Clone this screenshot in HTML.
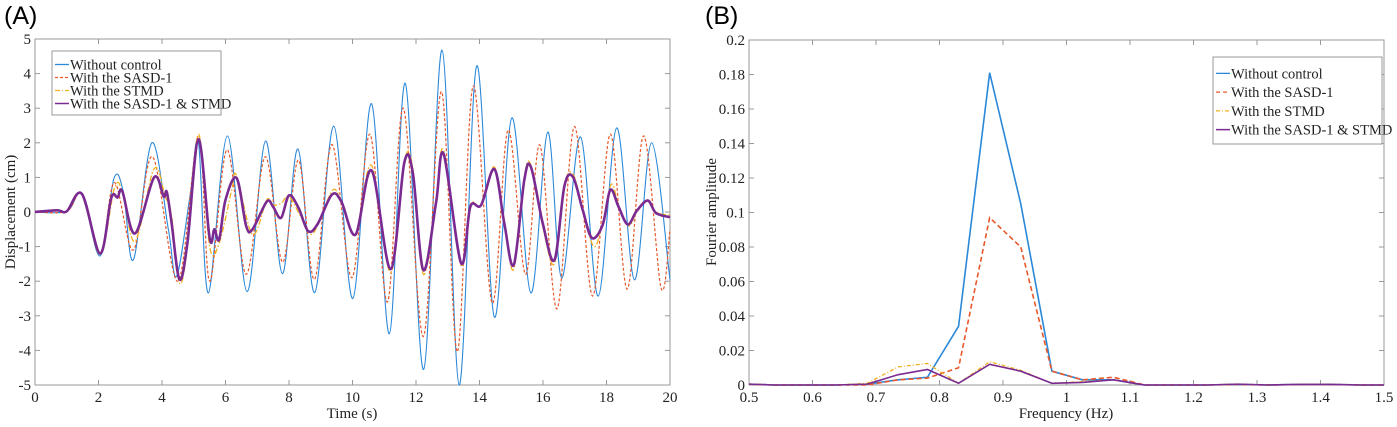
<!DOCTYPE html>
<html><head><meta charset="utf-8"><style>
body{margin:0;background:#fff;}
svg{display:block;font-family:"Liberation Serif",serif;}
.tk{font-size:15px;fill:#222;}
.lg{font-size:14.5px;fill:#222;}
</style></head><body>
<svg id="s" width="1397" height="427" viewBox="0 0 1397 427">
<text x="4" y="24" font-family="Liberation Sans" font-size="25">(A)</text>
<text x="705" y="24" font-family="Liberation Sans" font-size="25">(B)</text>
</svg>
<script>
// ---- Panel A data ----
const blueT=[0,1.0,1.48,2.05,2.49,2.79,3.1,3.68,4.2,4.46,4.88,5.15,5.46,6.06,6.68,7.26,7.79,8.28,8.81,9.41,10.01,10.6,11.16,11.66,12.24,12.82,13.36,13.91,14.47,15.02,15.62,16.15,16.59,17.18,17.74,18.32,18.88,19.42,20];
const blueV=[0,0.02,0.53,-1.27,0.98,0.55,-1.38,2.0,-0.5,-1.86,0.45,2.0,-2.34,2.2,-2.3,2.05,-1.78,1.82,-2.33,2.48,-2.5,3.13,-3.52,3.72,-4.55,4.68,-5.0,4.22,-3.04,2.72,-2.34,2.31,-1.91,2.17,-2.43,2.43,-1.96,2.0,-1.96];
const orT=[0,1.0,1.48,2.05,2.5,3.1,3.7,4.5,5.15,5.5,6.05,6.65,7.25,7.8,8.3,8.8,9.35,9.98,10.55,11.1,11.6,12.23,12.8,13.3,13.8,14.4,14.9,15.45,15.9,16.44,16.99,17.56,18.12,18.65,19.17,19.72,20];
const orV=[0,0.02,0.52,-1.22,0.85,-1.1,1.6,-2.0,2.2,-2.0,1.8,-1.8,1.6,-1.45,1.5,-1.95,1.95,-1.9,2.25,-2.6,3.0,-3.6,3.48,-4.04,3.64,-2.63,2.37,-1.8,1.94,-2.8,2.47,-2.43,2.25,-2.23,2.2,-2.2,-0.5];
const puT=[0,0.7,1.0,1.48,2.05,2.4,2.6,2.75,3.15,3.75,4.05,4.15,4.3,4.55,4.8,5.15,5.5,5.65,5.8,6.0,6.35,6.65,6.85,7.3,7.5,7.75,8.0,8.3,8.6,8.9,9.35,9.65,10.1,10.6,11.2,11.63,11.9,12.23,12.63,12.87,13.42,13.71,14.05,14.47,14.78,15.08,15.41,15.62,15.99,16.36,16.67,16.94,17.25,17.54,17.88,18.12,18.38,18.67,18.95,19.3,19.56,20];
const puV=[0,0.05,0.02,0.52,-1.2,0.4,0.42,0.6,-0.62,1.0,0.45,0.58,-0.3,-1.95,-0.9,2.1,-0.75,-0.5,-0.8,0.35,0.98,-0.4,-0.5,0.3,0.15,-0.17,0.48,0.12,-0.55,-0.35,0.5,0.3,-0.65,1.2,-1.65,1.42,1.13,-1.68,0.26,1.68,-1.48,0.15,0.2,1.24,-0.32,-1.53,0.92,1.3,-0.32,-1.39,0.73,1.02,0.06,-0.75,-0.37,0.64,0.15,-0.36,0.03,0.33,-0.03,-0.15];
const yeT=[0,0.7,1.0,1.48,2.05,2.5,2.75,3.15,3.75,4.1,4.3,4.55,4.8,5.15,5.5,5.8,6.2,6.35,6.85,7.3,7.5,7.75,8.0,8.35,8.7,9.0,9.4,9.7,10.1,10.6,11.2,11.63,11.9,12.23,12.63,12.87,13.42,13.71,14.05,14.47,14.78,15.08,15.41,15.62,15.99,16.36,16.67,16.94,17.25,17.6,17.88,18.15,18.38,18.7,18.95,19.3,19.56,20];
const yeV=[0,0.05,0.02,0.52,-1.22,0.68,0.6,-0.85,1.25,0.45,-0.1,-2.05,-1.0,2.25,-1.0,-0.9,0.65,1.05,-0.65,0.35,0.2,0.25,0.45,-0.1,-0.65,-0.15,0.65,0.2,-0.65,1.35,-1.75,1.45,1.25,-1.8,0.3,1.78,-1.55,0.2,0.2,1.3,-0.35,-1.65,1.0,1.35,-0.4,-1.5,0.75,1.1,0.1,-1.0,-0.3,0.8,0.2,-0.4,0.0,0.35,0.0,-0.1];
const aXTicks=[0,2,4,6,8,10,12,14,16,18,20];
const aYTicks=[-5,-4,-3,-2,-1,0,1,2,3,4,5];
// ---- Panel B data ----
const freqs=[0.5,0.539,0.588,0.637,0.686,0.735,0.781,0.83,0.879,0.928,0.977,1.025,1.074,1.123,1.172,1.221,1.27,1.318,1.367,1.416,1.465,1.5];
const fBlue=[0.0005,0,0,0,0.0005,0.003,0.0045,0.034,0.181,0.105,0.008,0.003,0.003,0,0,0,0.0003,0,0.0003,0.0003,0,0];
const fOr=[0.0005,0,0,0,0,0.003,0.004,0.01,0.097,0.08,0.008,0.003,0.0045,0,0,0,0.0003,0,0.0003,0.0003,0,0];
const fYe=[0.0005,0,0,0,0.001,0.0105,0.0125,0.001,0.0135,0.0085,0.001,0.002,0.003,0,0,0,0.0005,0,0.0003,0.0003,0,0];
const fPu=[0.0005,0,0,0,0.0005,0.006,0.009,0.001,0.012,0.008,0.001,0.0015,0.003,0,0,0,0.0005,0,0.0003,0.0003,0,0];
const bXTicks=[0.5,0.6,0.7,0.8,0.9,1,1.1,1.2,1.3,1.4,1.5];
const bYTicks=[0,0.02,0.04,0.06,0.08,0.1,0.12,0.14,0.16,0.18,0.2];

const NS="http://www.w3.org/2000/svg",svg=document.getElementById('s');
function mk(t,a,p){const e=document.createElementNS(NS,t);for(const k in a)e.setAttribute(k,a[k]);(p||svg).appendChild(e);return e;}
const C={blue:'#2b88d8',or:'#e8582a',ye:'#f0b020',pu:'#7a2a90'};

function axes(L,R,T,B,xt,yt,sx,sy,fmt,name){
  const g=mk('g',{});
  
  
  mk('rect',{x:L,y:T,width:R-L,height:B-T,fill:'none',stroke:'#999','stroke-width':1},g);
  xt.forEach(v=>{const x=sx(v);
    mk('line',{x1:x,x2:x,y1:B,y2:B-5,stroke:'#999'},g);mk('line',{x1:x,x2:x,y1:T,y2:T+5,stroke:'#999'},g);
    const t=mk('text',{x:x,y:B+17,'text-anchor':'middle',class:'tk'},g);t.textContent=fmt(v);
    
    });
  yt.forEach(v=>{const y=sy(v);
    mk('line',{x1:L,x2:L+5,y1:y,y2:y,stroke:'#999'},g);mk('line',{x1:R,x2:R-5,y1:y,y2:y,stroke:'#999'},g);
    const t=mk('text',{x:L-4,y:y+5,'text-anchor':'end',class:'tk'},g);t.textContent=String(v);
    
    });
}
function smooth(xs,ys,sx,sy){let p=xs.map((x,i)=>[sx(x),sy(ys[i])]);let d='M'+p[0][0]+','+p[0][1];
  for(let i=0;i<p.length-1;i++){const p0=p[i-1]||p[i],p1=p[i],p2=p[i+1],p3=p[i+2]||p2;
    d+=`C${p1[0]+(p2[0]-p0[0])/6},${p1[1]+(p2[1]-p0[1])/6} ${p2[0]-(p3[0]-p1[0])/6},${p2[1]-(p3[1]-p1[1])/6} ${p2[0]},${p2[1]}`;}return d;}
function poly(xs,ys,sx,sy){return 'M'+xs.map((x,i)=>sx(x)+','+sy(ys[i])).join('L');}

// Panel A
const aL=35,aR=670,aT=39,aB=385;
const ax=v=>aL+(v-0)/20*(aR-aL), ay=v=>aB-(v+5)/10*(aB-aT);
axes(aL,aR,aT,aB,aXTicks,aYTicks,ax,ay,v=>String(v),'panel-a');
[[blueT,blueV,C.blue,1.1,'','blue-line-without-control'],[orT,orV,C.or,1.2,'3,2','orange-line-sasd1'],[yeT,yeV,C.ye,1.3,'6,2,1.5,2','yellow-line-stmd'],[puT,puV,C.pu,2.6,'','purple-line-sasd1-stmd']].forEach(s=>{
  const p=mk('path',{d:smooth(s[0],s[1],ax,ay),fill:'none',stroke:s[2],'stroke-width':s[3],'stroke-dasharray':s[4]});
  
  });
let t=mk('text',{x:352,y:418,'text-anchor':'middle',class:'tk','font-size':16});t.textContent='Time (s)';


t=mk('text',{x:15,y:212,'text-anchor':'middle',class:'tk',transform:'rotate(-90 15 212)'});t.textContent='Displacement (cm)';



// Panel B
const bL=749,bR=1384,bT=40,bB=385;
const bx=v=>bL+(v-0.5)/1*(bR-bL), by=v=>bB-v/0.2*(bB-bT);
axes(bL,bR,bT,bB,bXTicks,bYTicks,bx,by,v=>String(v),'panel-b');
[[fBlue,C.blue,1.6,'','blue-line-without-control-b'],[fOr,C.or,1.6,'5,3','orange-line-sasd1-b'],[fYe,C.ye,1.3,'4,2,1,2','yellow-line-stmd-b'],[fPu,C.pu,1.6,'','purple-line-sasd1-stmd-b']].forEach(s=>{
  const p=mk('path',{d:poly(freqs,s[0],bx,by),fill:'none',stroke:s[1],'stroke-width':s[2],'stroke-dasharray':s[3]});
  
  });
t=mk('text',{x:1066,y:418,'text-anchor':'middle',class:'tk','font-size':16});t.textContent='Frequency (Hz)';


t=mk('text',{x:716,y:212,'text-anchor':'middle',class:'tk',transform:'rotate(-90 716 212)'});t.textContent='Fourier amplitude';



// Legends
function legend(x,y,w,h,name,dashes){
  const g=mk('g',{});
  
  
  mk('rect',{x:x,y:y,width:w,height:h,fill:'#fff',stroke:'#999'},g);
  const labels=['Without control','With the SASD-1','With the STMD','With the SASD-1 & STMD'];
  const cols=[C.blue,C.or,C.ye,C.pu];
  const step=(h-12)/4;
  labels.forEach((l,i)=>{const yy=y+6+step/2+i*step+1;
    mk('line',{x1:x+3,x2:x+17,y1:yy,y2:yy,stroke:cols[i],'stroke-width':i==3?1.5:1.3,'stroke-dasharray':dashes[i]},g);
    const tt=mk('text',{x:x+18,y:yy+5,class:'lg'},g);tt.textContent=l;
    
    });
}
legend(52,51,169,64,'legend-a',['','3,2','5,2,1,2','']);
legend(1213,57,169,87,'legend-b',['','4,3','4,2,1,2','']);
</script>
</body></html>
